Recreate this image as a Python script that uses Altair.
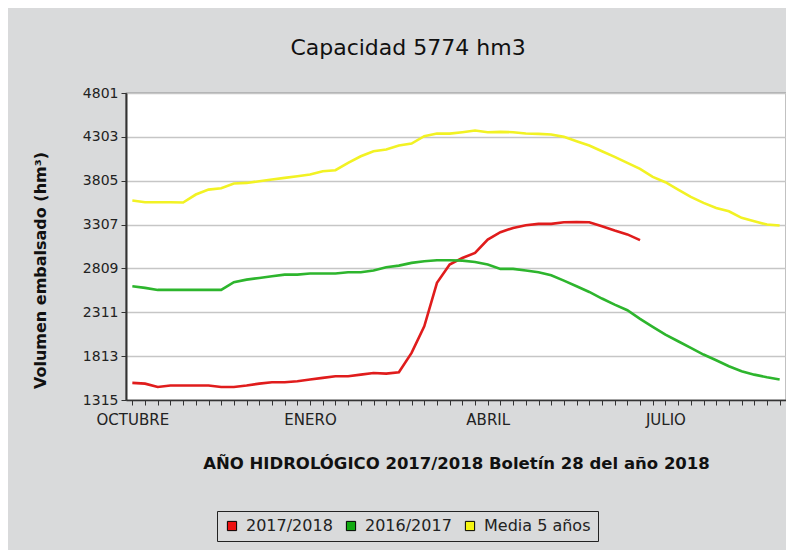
import altair as alt
import pandas as pd

# ---- data ----
weeks = list(range(52))
month_labels = {0: "OCTUBRE", 14: "ENERO", 28: "ABRIL", 42: "JULIO"}
y_ticks = [1315, 1813, 2311, 2809, 3307, 3805, 4303, 4801]

series_names = ["2017/2018", "2016/2017", "Media 5 años"]
series_colors = ["#e01c1c", "#2db52d", "#f2f224"]
legend_colors = ["#ee1111", "#11aa11", "#f5f511"]

v_2017_2018 = [1509, 1501, 1463, 1479, 1479, 1479, 1479, 1463, 1463, 1479, 1501, 1516, 1516, 1528,
               1547, 1566, 1585, 1585, 1603, 1622, 1615, 1630, 1850, 2152, 2645, 2853,
               2928, 2985, 3137, 3220, 3269, 3299, 3315, 3315, 3334, 3337, 3334, 3288, 3239,
               3195, 3130]
v_2016_2017 = [2607, 2588, 2565, 2565, 2565, 2565, 2565, 2565, 2652, 2682, 2701, 2720, 2739, 2739,
               2751, 2751, 2751, 2766, 2766, 2785, 2822, 2841, 2872, 2891, 2902, 2902,
               2898, 2883, 2853, 2804, 2804, 2785, 2766, 2732, 2671, 2607, 2542, 2467, 2398,
               2334, 2236, 2145, 2058, 1982, 1906, 1831, 1766, 1698, 1641, 1603, 1573, 1547]
v_media = [3580, 3561, 3561, 3561, 3557, 3648, 3704, 3720, 3773, 3780, 3799, 3818, 3837, 3856,
           3875, 3913, 3924, 4007, 4083, 4140, 4159, 4204, 4227, 4310, 4340, 4340,
           4356, 4375, 4356, 4360, 4356, 4341, 4337, 4329, 4303, 4253, 4204, 4140, 4076,
           4007, 3939, 3848, 3788, 3704, 3621, 3553, 3496, 3458, 3383, 3345, 3307, 3296]

rows = []
for name, vals in zip(series_names, [v_2017_2018, v_2016_2017, v_media]):
    for w, v in zip(weeks, vals):
        rows.append({"semana": w, "volumen": v, "serie": name})
df = pd.DataFrame(rows)

label_expr = " : ".join(
    [f"datum.value == {k} ? '{v}'" for k, v in month_labels.items()]
) + " : ''"

FONT = "DejaVu Sans"

x_enc = alt.X(
    "semana:Q",
    scale=alt.Scale(domain=[-0.5, 51.5], nice=False, zero=False),
    axis=alt.Axis(
        title="AÑO HIDROLÓGICO 2017/2018 Boletín 28 del año 2018",
        values=weeks,
        tickCount=60,
        labelExpr=label_expr,
        grid=False,
        tickSize=5,
        tickColor="#333333",
        domainColor="#333333",
        domainWidth=1.5,
        labelFont=FONT,
        labelFontSize=15,
        labelColor="#222222",
        labelPadding=7,
        labelOverlap=False,
        labelFlush=False,
        titleFont=FONT,
        titleFontSize=16.5,
        titleFontWeight="bold",
        titleColor="#111111",
        titleBaseline="middle",
        titleY=63,
    ),
)
y_enc = alt.Y(
    "volumen:Q",
    scale=alt.Scale(domain=[1315, 4801], nice=False, zero=False),
    axis=alt.Axis(
        title="Volumen embalsado (hm³)",
        values=y_ticks,
        tickCount=20,
        format="d",
        grid=True,
        gridColor="#c6c6c6",
        gridWidth=1.5,
        tickSize=5,
        tickColor="#333333",
        domainColor="#333333",
        domainWidth=2,
        labelFont=FONT,
        labelFontSize=14,
        labelColor="#222222",
        labelPadding=3,
        titleFont=FONT,
        titleFontSize=16,
        titleFontWeight="bold",
        titleColor="#111111",
        titleBaseline="middle",
        titleAlign="center",
        titleX=-86,
        titleY=177,
    ),
)

# filled squares layer: draws nothing (empty after filter) but defines the legend
legend_layer = alt.Chart(df).transform_filter("datum.semana < 0").mark_square(
    filled=True, stroke="black", strokeWidth=1, opacity=1
).encode(
    x=x_enc,
    y=y_enc,
    fill=alt.Fill(
        "serie:N",
        scale=alt.Scale(domain=series_names, range=legend_colors),
        legend=alt.Legend(
            title=None,
            orient="none",
            legendX=91,
            legendY=418,
            direction="horizontal",
            symbolType="square",
            symbolSize=85,
            symbolStrokeWidth=1,
            symbolStrokeColor="black",
            symbolOpacity=1,
            labelFont=FONT,
            labelFontSize=16,
            labelColor="#222222",
            labelOffset=6,
            columnPadding=10,
            labelLimit=300,
            padding=7,
            strokeColor="#222222",
        ),
    ),
)

# lines: stroke scale listed in another order so its (hidden) legend stays separate
line_order = [1, 0, 2]
lines = alt.Chart(df).mark_line(strokeWidth=2.6).encode(
    x=x_enc,
    y=y_enc,
    stroke=alt.Stroke(
        "serie:N",
        scale=alt.Scale(
            domain=[series_names[i] for i in line_order],
            range=[series_colors[i] for i in line_order],
        ),
        legend=None,
    ),
    order=alt.Order("semana:Q"),
)

chart = alt.layer(lines, legend_layer).properties(
    width=660,
    height=307,
    autosize=alt.AutoSizeParams(type="none"),
    padding={"left": 118, "top": 85, "right": 0, "bottom": 150},
    background="#d9dadb",
    title=alt.TitleParams(
        "Capacidad 5774 hm3",
        font=FONT,
        fontSize=22,
        fontWeight="normal",
        color="#111111",
        anchor="middle",
        dx=-48,
        offset=26,
    ),
).configure_view(
    fill="white",
    stroke="#333333",
    strokeWidth=1.2,
)

chart.save("out.html", embed_options={"renderer": "svg", "actions": False})
